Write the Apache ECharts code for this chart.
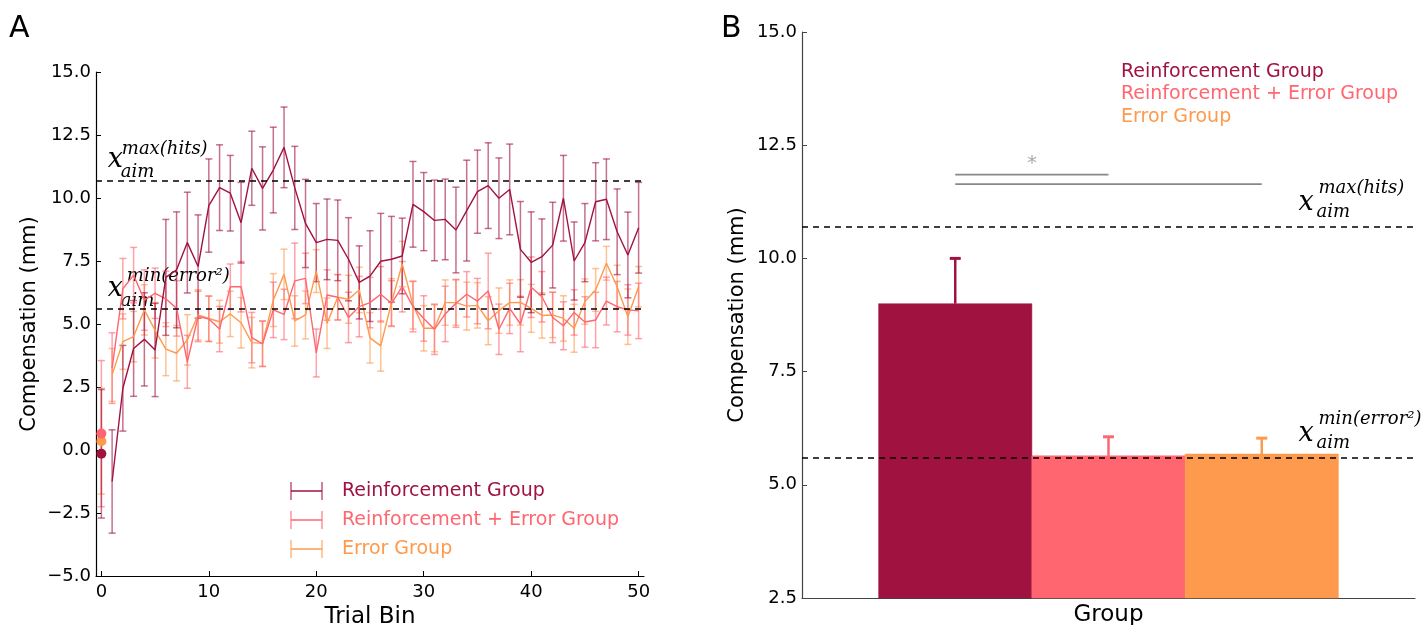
<!DOCTYPE html>
<html>
<head>
<meta charset="utf-8">
<title>Compensation</title>
<script src="https://cdn.jsdelivr.net/npm/echarts@6/dist/echarts.min.js"></script>
<style>
  html, body { margin: 0; padding: 0; background: #fff; }
  #chart { width: 1428px; height: 625px; }
</style>
</head>
<body>
<div id="chart"></div>
<script>
"use strict";

// ---- data ----
var trials = [0, 1, 2, 3, 4, 5, 6, 7, 8, 9, 10, 11, 12, 13, 14, 15, 16, 17, 18, 19, 20,
  21, 22, 23, 24, 25, 26, 27, 28, 29, 30, 31, 32, 33, 34, 35, 36, 37, 38, 39, 40,
  41, 42, 43, 44, 45, 46, 47, 48, 49, 50];

var reinfMean = [-0.15, -1.25, 2.45, 4.03, 4.39, 3.97, 6.85, 7.15, 8.23, 7.28, 9.70,
  10.41, 10.19, 9.02, 11.18, 10.38, 11.11, 12.01, 10.40, 8.99, 8.23,
  8.36, 8.32, 7.57, 6.65, 6.90, 7.49, 7.57, 7.70, 9.75, 9.46,
  9.11, 9.15, 8.73, 9.50, 10.25, 10.49, 9.99, 10.34, 7.96, 7.45,
  7.67, 8.13, 9.99, 7.50, 8.23, 9.85, 9.95, 8.66, 7.74, 8.82];
var reinfErr = [2.55, 2.05, 1.7, 1.9, 1.85, 1.85, 2.3, 2.3, 2.0, 2.05, 1.85,
  1.7, 1.5, 1.6, 1.47, 1.65, 1.7, 1.6, 1.65, 1.75, 1.55,
  1.6, 1.6, 1.65, 1.45, 1.8, 1.9, 1.7, 1.5, 1.7, 1.55,
  1.6, 1.6, 1.7, 2.0, 1.65, 1.7, 1.6, 1.8, 1.9, 2.0,
  1.5, 1.7, 1.7, 1.55, 1.55, 1.55, 1.6, 1.7, 1.7, 1.8];

var comboMean = [0.65, 3.25, 6.40, 6.94, 5.95, 6.22, 6.00, 5.62, 3.50, 5.30, 5.20,
  4.80, 6.48, 6.48, 4.46, 4.21, 5.56, 5.38, 6.71, 6.81, 3.85,
  6.15, 6.06, 5.26, 5.69, 5.85, 6.18, 5.82, 6.48, 5.69, 5.22,
  4.79, 5.40, 5.82, 6.18, 5.91, 6.31, 4.79, 5.62, 5.00, 6.46,
  6.08, 5.26, 4.93, 5.46, 5.08, 5.16, 5.91, 5.69, 5.56, 5.52];
var comboErr = [2.9, 1.4, 1.2, 1.1, 1.2, 1.0, 1.1, 1.1, 1.05, 1.0, 0.9,
  0.9, 0.9, 1.0, 1.0, 0.9, 1.1, 1.0, 1.5, 1.0, 0.95,
  1.0, 0.9, 1.0, 1.2, 1.0, 1.1, 0.9, 1.0, 1.0, 0.9,
  1.0, 1.1, 0.95, 0.9, 0.9, 1.5, 1.0, 1.0, 1.1, 1.2,
  1.0, 1.0, 0.95, 0.9, 1.0, 1.1, 0.95, 1.0, 1.0, 1.1];

var errorMean = [0.35, 2.98, 4.30, 4.50, 5.56, 4.75, 4.00, 3.84, 4.37, 5.36, 5.22,
  5.09, 5.40, 5.05, 4.26, 4.23, 5.95, 6.97, 5.12, 5.36, 7.10,
  5.03, 6.06, 5.98, 6.35, 4.45, 4.13, 5.85, 7.38, 5.75, 4.83,
  4.83, 5.85, 5.85, 5.71, 5.74, 5.13, 5.53, 5.85, 5.86, 5.62,
  5.34, 5.36, 5.22, 4.83, 5.89, 6.35, 7.41, 6.48, 5.29, 6.48];
var errorErr = [2.1, 1.05, 1.1, 1.0, 1.0, 1.1, 1.05, 1.1, 1.0, 1.0, 0.9,
  0.85, 0.9, 1.0, 1.0, 0.9, 1.05, 1.0, 1.0, 0.95, 0.85,
  1.0, 0.9, 0.95, 0.9, 1.0, 1.0, 0.95, 0.9, 0.95, 0.9,
  0.93, 0.9, 0.9, 0.95, 0.9, 0.95, 0.9, 0.9, 0.9, 0.95,
  0.9, 0.9, 0.9, 0.95, 0.9, 0.85, 0.67, 0.85, 1.1, 0.8];

var aimMaxHits = 10.7;
var aimMinErr = 5.6;

var groupNames = ["Reinforcement Group", "Reinforcement + Error Group", "Error Group"];
var groupPos = [1, 2, 3];
var groupMean = [9.0, 5.64, 5.68];
var groupErr = [1.0, 0.42, 0.35];
var sigBars = [[1, 2, 11.85], [1, 3, 11.64]];
var sigStar = [1.5, 12.08];

var xTicksA = [0, 10, 20, 30, 40, 50];

// ---- styles ----
var COLORS = ["#A0123F", "#FF6670", "#FD9A4E"];
var FONT = "DejaVu Sans";
var MATH = "DejaVu Serif";
var yMinB = 2.5;

function fade(hex, a) {
    var n = parseInt(hex.slice(1), 16);
    return "rgba(" + (n >> 16) + "," + ((n >> 8) & 255) + "," + (n & 255) + "," + a + ")";
}

function fmt(v) {
    return (v < 0 ? "\u2212" : "") + Math.abs(v).toFixed(1);
}

var dashed = {
    silent: true,
    symbol: "none",
    label: { show: false },
    lineStyle: { type: [6, 5], color: "#000", width: 1.6 },
    data: [{ yAxis: aimMaxHits }, { yAxis: aimMinErr }]
};

function errorBars(idx, means, errs) {
    return {
        type: "custom",
        xAxisIndex: 0, yAxisIndex: 0,
        z: 2, silent: true,
        encode: { x: 0, y: [1, 2] },
        data: trials.map(function (t, i) { return [t, means[i] - errs[i], means[i] + errs[i]]; }),
        renderItem: function (params, api) {
            var lo = api.coord([api.value(0), api.value(1)]);
            var hi = api.coord([api.value(0), api.value(2)]);
            var st = { stroke: fade(COLORS[idx], 0.6), lineWidth: 1.5 };
            return {
                type: "group",
                children: [
                    { type: "line", shape: { x1: lo[0], y1: lo[1], x2: hi[0], y2: hi[1] }, style: st },
                    { type: "line", shape: { x1: lo[0] - 3.5, y1: lo[1], x2: lo[0] + 3.5, y2: lo[1] }, style: st },
                    { type: "line", shape: { x1: hi[0] - 3.5, y1: hi[1], x2: hi[0] + 3.5, y2: hi[1] }, style: st }
                ]
            };
        }
    };
}

function meanLine(idx, means) {
    return {
        type: "line",
        xAxisIndex: 0, yAxisIndex: 0,
        z: 3, silent: true,
        symbol: "none",
        data: trials.slice(1).map(function (t, i) { return [t, means[i + 1]]; }),
        lineStyle: { color: COLORS[idx], width: 1.4 }
    };
}

var startDots = {
    type: "scatter",
    xAxisIndex: 0, yAxisIndex: 0,
    z: 4, silent: true,
    symbolSize: 10,
    data: [
        { value: [trials[0], reinfMean[0]], itemStyle: { color: COLORS[0], opacity: 1 } },
        { value: [trials[0], errorMean[0]], itemStyle: { color: COLORS[2], opacity: 1 } },
        { value: [trials[0], comboMean[0]], itemStyle: { color: COLORS[1], opacity: 1 } }
    ],
    markLine: dashed
};

var groupBars = {
    type: "custom",
    xAxisIndex: 1, yAxisIndex: 1,
    silent: true,
    encode: { x: 0, y: 1 },
    data: groupPos.map(function (p, i) { return [p, groupMean[i], groupErr[i]]; }),
    renderItem: function (params, api) {
        var x = api.value(0), v = api.value(1), e = api.value(2);
        var tl = api.coord([x - 0.5, v]);
        var br = api.coord([x + 0.5, yMinB]);
        var top = api.coord([x, v + e]);
        var c = COLORS[params.dataIndex];
        return {
            type: "group",
            children: [
                { type: "rect", shape: { x: tl[0], y: tl[1], width: br[0] - tl[0], height: br[1] - tl[1] },
                  style: { fill: c, stroke: fade(c, 0.5), lineWidth: 1 } },
                { type: "line", shape: { x1: top[0], y1: tl[1], x2: top[0], y2: top[1] },
                  style: { stroke: c, lineWidth: 2.5 } },
                { type: "line", shape: { x1: top[0] - 5.5, y1: top[1], x2: top[0] + 5.5, y2: top[1] },
                  style: { stroke: c, lineWidth: 3 } }
            ]
        };
    },
    markLine: dashed
};

var sigLines = {
    type: "custom",
    xAxisIndex: 1, yAxisIndex: 1,
    silent: true,
    encode: { x: [0, 1], y: 2 },
    data: sigBars,
    renderItem: function (params, api) {
        var a = api.coord([api.value(0), api.value(2)]);
        var b = api.coord([api.value(1), api.value(2)]);
        var children = [
            { type: "line", shape: { x1: a[0], y1: a[1], x2: b[0], y2: b[1] },
              style: { stroke: "#888", lineWidth: 1.6 } }
        ];
        if (params.dataIndex === 0) {
            var s = api.coord(sigStar);
            children.push({ type: "text", x: s[0], y: s[1],
                style: { text: "*", fill: "#aaa", font: "20px " + FONT, align: "center", verticalAlign: "middle" } });
        }
        return { type: "group", children: children };
    }
};

var axisText = { color: "#000", fontFamily: FONT, fontSize: 18 };

var option = {
    animation: false,
    textStyle: { fontFamily: FONT },
    grid: [
        { left: 96, top: 72, width: 548, height: 504, outerBoundsMode: "none" },
        { left: 802, top: 32, width: 613, height: 566, outerBoundsMode: "none" }
    ],
    xAxis: [
        {
            type: "value", gridIndex: 0, min: -0.5, max: 50.5,
            name: "Trial Bin", nameLocation: "middle", nameGap: 29,
            nameTextStyle: { color: "#000", fontSize: 23, fontFamily: FONT },
            axisLine: { show: true, onZero: false, lineStyle: { color: "#000", width: 1.2 } },
            axisTick: { show: true, inside: true, length: 5, customValues: xTicksA, lineStyle: { color: "#000" } },
            axisLabel: Object.assign({ customValues: xTicksA, margin: 7 }, axisText),
            splitLine: { show: false }
        },
        {
            type: "value", gridIndex: 1, min: 0, max: 4,
            name: "Group", nameLocation: "middle", nameGap: 6,
            nameTextStyle: { color: "#000", fontSize: 23, fontFamily: FONT },
            axisLine: { show: true, onZero: false, lineStyle: { color: "#444", width: 1.2 } },
            axisTick: { show: false },
            axisLabel: { show: false },
            splitLine: { show: false }
        }
    ],
    yAxis: [
        {
            type: "value", gridIndex: 0, min: -5, max: 15, interval: 2.5,
            name: "Compensation (mm)", nameLocation: "middle", nameGap: 56,
            nameTextStyle: { color: "#000", fontSize: 21, fontFamily: FONT },
            axisLine: { show: true, onZero: false, lineStyle: { color: "#000", width: 1.2 } },
            axisTick: { show: true, inside: true, length: 5, lineStyle: { color: "#000" } },
            axisLabel: Object.assign({ formatter: fmt, margin: 5 }, axisText),
            splitLine: { show: false }
        },
        {
            type: "value", gridIndex: 1, min: yMinB, max: 15, interval: 2.5,
            name: "Compensation (mm)", nameLocation: "middle", nameGap: 54,
            nameTextStyle: { color: "#000", fontSize: 21, fontFamily: FONT },
            axisLine: { show: true, onZero: false, lineStyle: { color: "#444", width: 1.2 } },
            axisTick: { show: true, inside: true, length: 5, lineStyle: { color: "#444" } },
            axisLabel: Object.assign({ formatter: fmt, margin: 5 }, axisText),
            splitLine: { show: false }
        }
    ],
    series: [
        errorBars(2, errorMean, errorErr),
        errorBars(1, comboMean, comboErr),
        errorBars(0, reinfMean, reinfErr),
        meanLine(2, errorMean),
        meanLine(1, comboMean),
        meanLine(0, reinfMean),
        startDots,
        groupBars,
        sigLines
    ]
};

var chart = echarts.init(document.getElementById("chart"), null, { renderer: "canvas" });
chart.setOption(option);

// ---- annotations: x_aim labels, legends, panel letters ----
function aimLabel(grid, xVal, yVal, sup, o) {
    var p = chart.convertToPixel({ xAxisIndex: grid, yAxisIndex: grid }, [xVal, yVal]);
    return {
        type: "group",
        silent: true,
        children: [
            { type: "text", x: p[0], y: p[1] + o.x,
              style: { text: "x", font: "italic 27px '" + MATH + "'", fill: "#000", verticalAlign: "middle" } },
            { type: "text", x: p[0] + o.supX, y: p[1] + o.sup,
              style: { text: sup, font: "italic 18px '" + MATH + "'", fill: "#000", verticalAlign: "middle" } },
            { type: "text", x: p[0] + o.subX, y: p[1] + o.sub,
              style: { text: "aim", font: "italic 18px '" + MATH + "'", fill: "#000", verticalAlign: "middle" } }
        ]
    };
}

var offA = { x: -20, sup: -31, sub: -8, supX: 14, subX: 13 };
var offAmin = { x: -20, sup: -33, sub: -8, supX: 19, subX: 13 };
var offB = { x: -24, sup: -38, sub: -14, supX: 20, subX: 18 };

var graphics = [
    aimLabel(0, 0.6, aimMaxHits, "max(hits)", offA),
    aimLabel(0, 0.6, aimMinErr, "min(error\u00B2)", offAmin),
    aimLabel(1, 3.24, aimMaxHits, "max(hits)", offB),
    aimLabel(1, 3.24, aimMinErr, "min(error\u00B2)", offB),
    { type: "text", left: 9, top: 14, silent: true,
      style: { text: "A", font: "30px '" + FONT + "'", fill: "#000" } },
    { type: "text", left: 721, top: 14, silent: true,
      style: { text: "B", font: "30px '" + FONT + "'", fill: "#000" } }
];

// legend of panel A: error-bar icon + coloured text
var legendTopA = 491, legendStep = 29;
groupNames.forEach(function (name, i) {
    var y = legendTopA + i * legendStep;
    var c = COLORS[i];
    graphics.push({
        type: "group", silent: true,
        children: [
            { type: "line", shape: { x1: 291, y1: y, x2: 322, y2: y }, style: { stroke: c, lineWidth: 1.5 } },
            { type: "line", shape: { x1: 291, y1: y - 9, x2: 291, y2: y + 9 }, style: { stroke: fade(c, 0.7), lineWidth: 1.5 } },
            { type: "line", shape: { x1: 322, y1: y - 9, x2: 322, y2: y + 9 }, style: { stroke: fade(c, 0.7), lineWidth: 1.5 } },
            { type: "text", x: 342, y: y,
              style: { text: name, font: "19px '" + FONT + "'", fill: c, verticalAlign: "middle" } }
        ]
    });
});

// legend of panel B: coloured text only
var legendTopB = 72, legendStepB = 22.5;
groupNames.forEach(function (name, i) {
    graphics.push({
        type: "text", x: 1121, y: legendTopB + i * legendStepB, silent: true,
        style: { text: name, font: "19px '" + FONT + "'", fill: COLORS[i], verticalAlign: "middle" }
    });
});

chart.setOption({ graphic: graphics });
</script>
</body>
</html>
